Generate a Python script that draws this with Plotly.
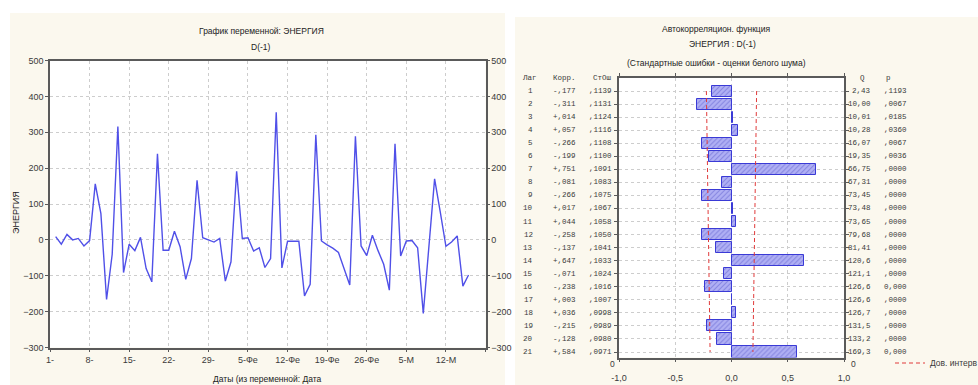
import plotly.graph_objects as go

W, H = 978, 385

# ---------------- Left chart data: ЭНЕРГИЯ, D(-1) ----------------
days = list(range(2, 76))
energy_d1 = [9, -12, 15, 0, 4, -17, -2, 156, 73, -166,
             -40, 316, -91, -12, -30, 7, -80, -117, 240, -29,
             -29, 24, -19, -110, -52, 166, 6, -1, -6, 4,
             -115, -61, 191, 4, 6, -31, -22, -77, -52, 356,
             -78, -4, -4, -4, -156, -124, 293, -3, -14, -23,
             -35, -80, -126, 289, -17, -44, 13, -30, -68, -140,
             268, -45, -3, -2, -22, -205, -15, 170, 78, -18,
             -6, 11, -129, -98]
date_tick_days = [1, 8, 15, 22, 29, 36, 43, 50, 57, 64, 71, 78]
date_tick_labels = ["1-", "8-", "15-", "22-", "29-", "5-Фе", "12-Фе", "19-Фе",
                    "26-Фе", "5-М", "12-М", ""]

# ---------------- Right chart data: ACF ----------------
lags = list(range(1, 22))
acf = [-0.177, -0.311, 0.014, 0.057, -0.266, -0.199, 0.751, -0.081, -0.266, 0.017,
       0.044, -0.258, -0.137, 0.647, -0.071, -0.238, 0.003, 0.036, -0.215, -0.128, 0.584]
acf_se = [0.1139, 0.1131, 0.1124, 0.1116, 0.1108, 0.1100, 0.1091, 0.1083, 0.1075, 0.1067,
          0.1058, 0.1050, 0.1041, 0.1033, 0.1024, 0.1016, 0.1007, 0.0998, 0.0989, 0.0980, 0.0971]
q_stat = [2.43, 10.00, 10.01, 10.28, 16.07, 19.35, 66.75, 67.31, 73.45, 73.48,
          73.65, 79.68, 81.41, 120.6, 121.1, 126.6, 126.6, 126.7, 131.5, 133.2, 169.3]
p_labels = [",1193", ",0067", ",0185", ",0360", ",0067", ",0036", ",0000", ",0000", ",0000", ",0000",
            ",0000", ",0000", ",0000", ",0000", ",0000", "0,000", ",0000", ",0000", ",0000", ",0000", "0,000"]
acf_ticks = [-1.0, -0.5, 0.0, 0.5, 1.0]
acf_tick_labels = ["-1,0", "-0,5", "0,0", "0,5", "1,0"]
z_conf = 1.96

NARROW = "Liberation Sans Narrow, Arial Narrow, Liberation Sans, Arial, sans-serif"
MONO = "Liberation Mono, DejaVu Sans Mono, monospace"
TXT = "#3a3a3a"
CREAM = "#fbf8ee"
FRAME = "#5a5a5a"
GRID = "#cdcdcd"


def fx(px):
    return px / W


def fy(py):
    return 1 - py / H


fig = go.Figure()

fig.add_trace(go.Scatter(x=days, y=energy_d1, mode="lines",
                         line=dict(color="#5050e8", width=1.4),
                         xaxis="x", yaxis="y", showlegend=False))
fig.add_trace(go.Scatter(x=days, y=energy_d1, mode="lines", opacity=0,
                         line=dict(color="#5050e8", width=1),
                         xaxis="x", yaxis="y3", showlegend=False, hoverinfo="skip"))

fig.add_trace(go.Bar(x=acf, y=lags, orientation="h", width=0.85,
                     xaxis="x2", yaxis="y2", showlegend=False,
                     marker=dict(color="#b0b0f4",
                                 line=dict(color="#3a3ad6", width=1),
                                 pattern=dict(shape="/", fgcolor="#5a5acc", size=3.5,
                                              solidity=0.3, fillmode="overlay"))))

lower = [-z_conf * s for s in acf_se]
upper = [z_conf * s for s in acf_se]
fig.add_trace(go.Scatter(x=lower, y=lags, mode="lines", xaxis="x2", yaxis="y2",
                         line=dict(color="#e03a3a", width=1, dash="4px,3px"),
                         showlegend=False))
fig.add_trace(go.Scatter(x=upper, y=lags, mode="lines", xaxis="x2", yaxis="y2",
                         line=dict(color="#e03a3a", width=1, dash="4px,3px"),
                         name="Дов. интерв", showlegend=True))

tickfont = dict(family=NARROW, size=9, color=TXT)
left_y_dom = [fy(347.5), fy(60.5)]

fig.update_layout(
    width=W, height=H,
    margin=dict(l=0, r=0, t=0, b=0, autoexpand=False),
    paper_bgcolor=CREAM, plot_bgcolor="white",
    bargap=0,
    xaxis=dict(domain=[fx(50), fx(485.5)], anchor="y", range=[1, 78],
               tickmode="array", tickvals=date_tick_days, ticktext=date_tick_labels,
               showgrid=True, gridcolor=GRID, griddash="dot", gridwidth=1,
               showline=True, linecolor=FRAME, linewidth=1.5, mirror=True,
               ticks="outside", ticklen=3, tickcolor=FRAME, tickfont=tickfont,
               zeroline=False),
    yaxis=dict(domain=left_y_dom, anchor="x", range=[-300, 500], dtick=100,
               showgrid=True, gridcolor=GRID, griddash="dot", gridwidth=1,
               showline=True, linecolor=FRAME, linewidth=1.5, mirror=True,
               ticks="outside", ticklen=3, tickcolor=FRAME, tickfont=tickfont,
               zeroline=False),
    yaxis3=dict(overlaying="y", side="right", anchor="x", range=[-300, 500], dtick=100,
                showgrid=False, zeroline=False, showline=False,
                ticks="outside", ticklen=3, tickcolor=FRAME, tickfont=tickfont),
    xaxis2=dict(domain=[fx(619), fx(844)], anchor="y2", range=[-1, 1],
                tickmode="array", tickvals=acf_ticks, ticktext=acf_tick_labels,
                showgrid=True, gridcolor=GRID, griddash="dot", gridwidth=1,
                showline=True, linecolor=FRAME, linewidth=1.5, mirror="ticks",
                ticks="outside", ticklen=3, tickcolor=FRAME, tickfont=tickfont,
                ticklabelstandoff=8, zeroline=False),
    yaxis2=dict(domain=[fy(357.5), fy(78)], anchor="x2", range=[21.42, 0],
                tickmode="array", tickvals=lags, showticklabels=False,
                showgrid=True, gridcolor=GRID, griddash="dot", gridwidth=1,
                showline=True, linecolor=FRAME, linewidth=1.5, mirror="ticks",
                ticks="outside", ticklen=3, tickcolor=FRAME, zeroline=False),
    legend=dict(x=fx(890), y=fy(363), xanchor="left", yanchor="middle",
                bgcolor="rgba(0,0,0,0)", borderwidth=0,
                font=dict(family=NARROW, size=8.5, color=TXT)),
)

# white strips outside the two cream panels
for x0, x1, y0, y1 in [(0, 10, 0, 385), (0, 978, 0, 13), (505, 515, 0, 385), (515, 978, 0, 17)]:
    fig.add_shape(type="rect", xref="paper", yref="paper",
                  x0=fx(x0), x1=fx(x1), y0=fy(y1), y1=fy(y0),
                  fillcolor="white", line=dict(width=0), layer="below")


def ann(text, x, y, size=9, family=NARROW, xanchor="center", yref="paper", textangle=0, color=TXT):
    fig.add_annotation(text=text, x=x, y=y, xref="paper", yref=yref, showarrow=False,
                       xanchor=xanchor, yanchor="middle", textangle=textangle,
                       font=dict(family=family, size=size, color=color))


# left chart titles
ann("График переменной: ЭНЕРГИЯ", fx(261), fy(31), size=8.5, color="#222")
ann("D(-1)", fx(261), fy(47), size=8.5, color="#222")
ann("ЭНЕРГИЯ", fx(16), fy(213), size=9, textangle=-90, color="#222")
ann("Даты (из переменной: Дата", fx(267), fy(379), size=8.5, color="#222")

# right chart titles
ann("Автокорреляцион. функция", fx(716), fy(29), size=8.5, color="#222")
ann("ЭНЕРГИЯ : D(-1)", fx(722), fy(44), size=8.5, color="#222")
ann("(Стандартные ошибки - оценки белого шума)", fx(716), fy(63), size=8.5, color="#222")

# table headers
hy = fy(78)
ann("Лаг", fx(530), hy, size=7.5, family=MONO)
ann("Корр.", fx(564), hy, size=7.5, family=MONO)
ann("СтОш", fx(602), hy, size=7.5, family=MONO)
ann("Q", fx(862), hy, size=7.5, family=MONO)
ann("p", fx(888), hy, size=7.5, family=MONO)


def fmt_corr(v):
    s = "%.3f" % abs(v)
    return ("+" if v >= 0 else "-") + s[1:].replace(".", ",")


def fmt_se(v):
    return ("%.4f" % v)[1:].replace(".", ",")


def fmt_q(v):
    return (("%.2f" % v) if v < 100 else ("%.1f" % v)).replace(".", ",")


for lag, c, se, q, p in zip(lags, acf, acf_se, q_stat, p_labels):
    for text, x in [(str(lag), 535), (fmt_corr(c), 578), (fmt_se(se), 614),
                    (fmt_q(q), 873), (p, 909)]:
        ann(text, fx(x), lag, size=7.5, family=MONO, xanchor="right", yref="y2")

# bottom "0" labels of the lag axis
ann("0", fx(612), fy(364), size=8.5)
ann("0", fx(853), fy(364), size=8.5)

fig.write_html("out.html")
